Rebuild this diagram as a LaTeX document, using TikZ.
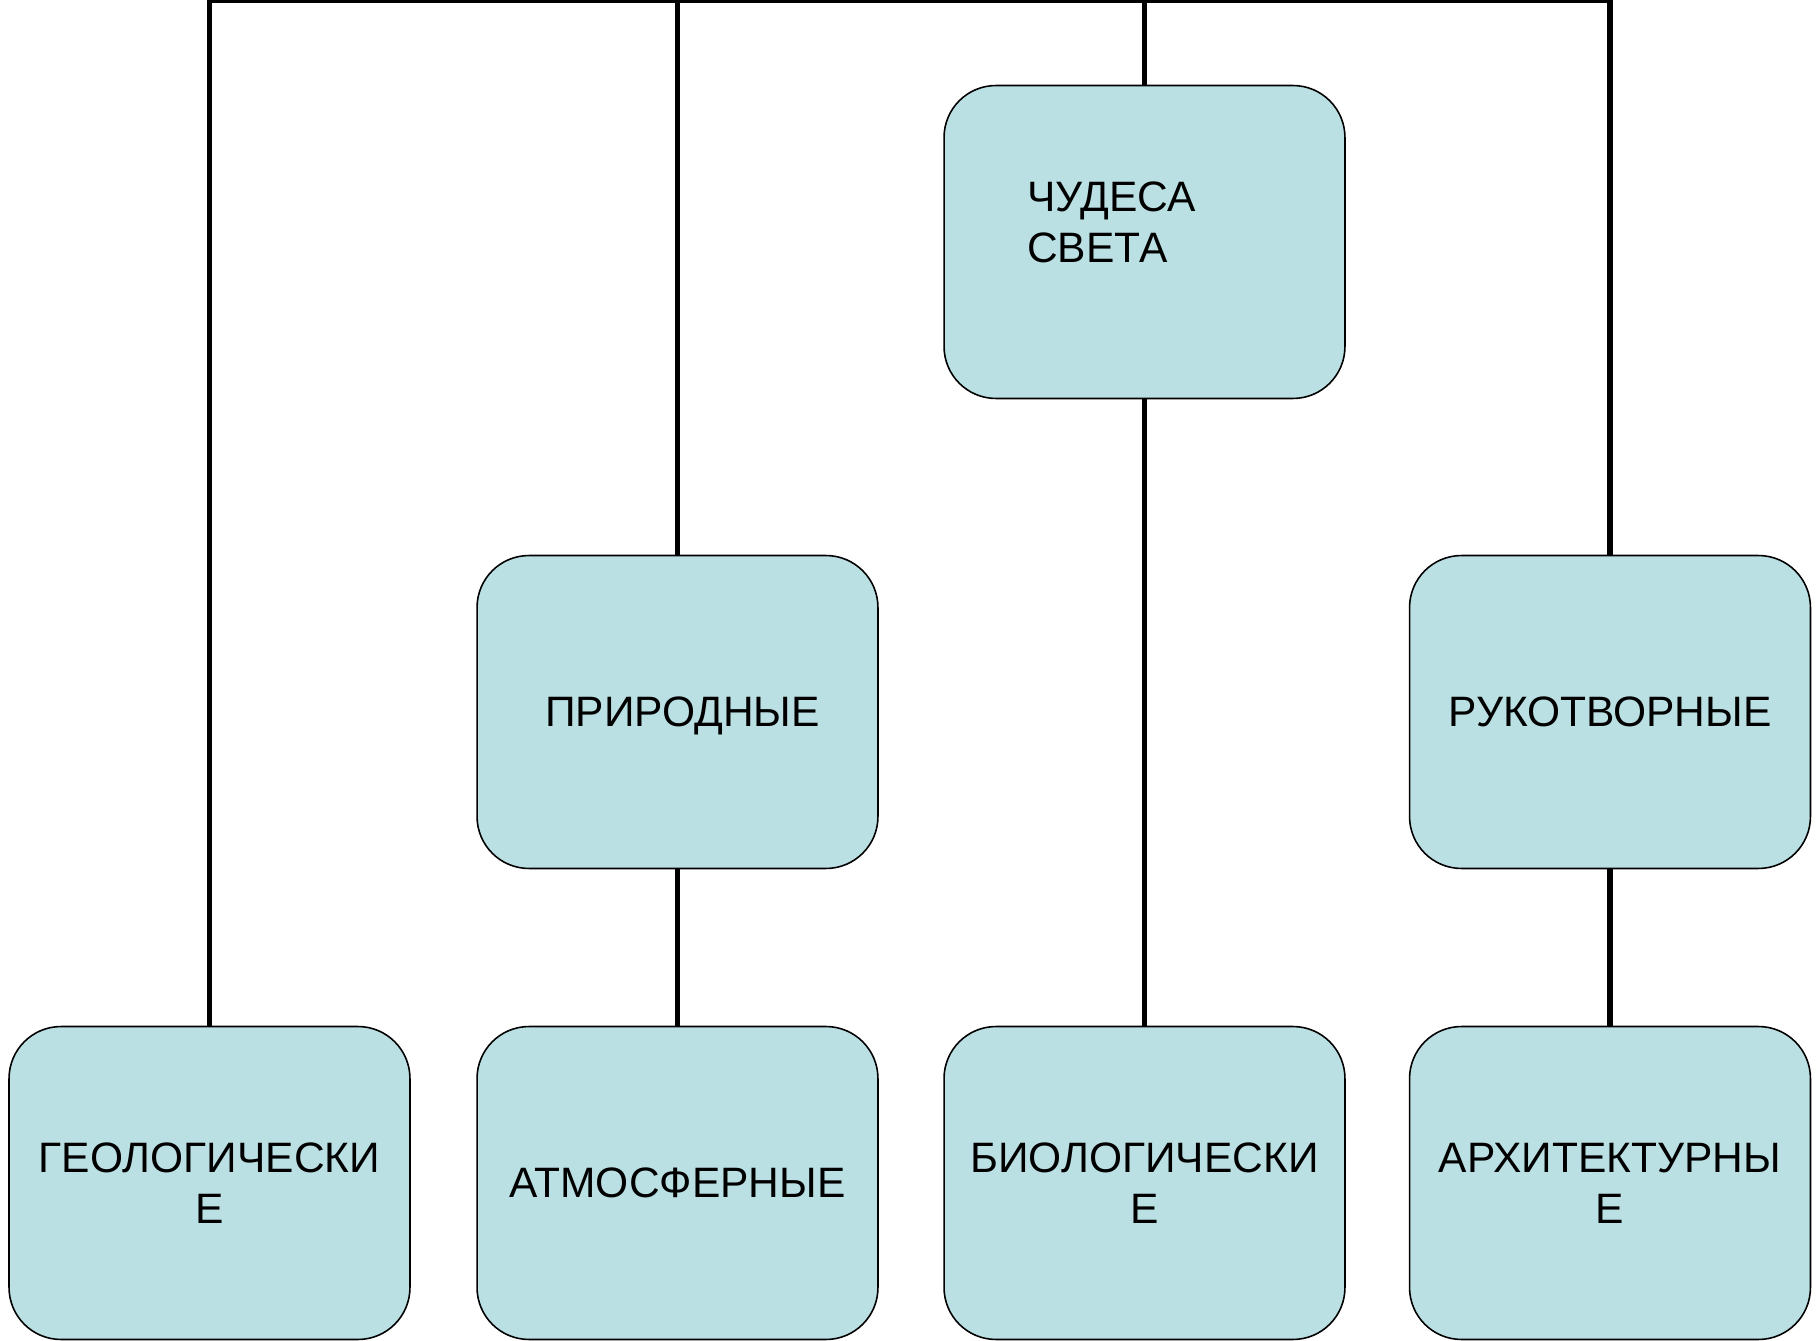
\documentclass[tikz,border=0pt]{standalone}
\usepackage{fontspec}
\setmainfont{Liberation Sans}
\usepackage{xcolor}
\usepackage{tikz}
\usetikzlibrary{positioning}

\definecolor{boxfill}{HTML}{BBE0E3}

\begin{document}
\begin{tikzpicture}[x=0.02cm, y=-0.02cm,
  wonder/.style={draw=black, line width=0.9pt, fill=boxfill, rounded corners=1.04cm,
    minimum width=8.02cm, minimum height=6.26cm, inner sep=0pt, align=center,
    font=\fontsize{24.2}{28.9}\selectfont},
  link/.style={black, line width=3.4pt}]
\useasboundingbox (0,0) rectangle (1820,1341);
% boxes
\node[wonder, text width=4.7cm, align=left, text depth=1.8cm] (root) at (1144.5,242) {ЧУДЕСА\\СВЕТА};
\node[wonder, text depth=0pt] (nat) at (677.5,712) {\hspace{0.2cm}ПРИРОДНЫЕ};
\node[wonder] (man) at (1610,712) {РУКОТВОРНЫЕ};
\node[wonder] (geo) at (209.5,1183) {ГЕОЛОГИЧЕСКИ\\Е};
\node[wonder] (atm) at (677.5,1183) {АТМОСФЕРНЫЕ};
\node[wonder] (bio) at (1144.5,1183) {БИОЛОГИЧЕСКИ\\Е};
\node[wonder] (arch) at (1610,1183) {АРХИТЕКТУРНЫ\\Е};
\coordinate (bar) at (1144.5,0);
% connectors
\draw[link] (geo.north) -- (geo.north |- bar) -- (man.north |- bar) -- (man.north);
\draw[link] (nat.north) -- (nat.north |- bar);
\draw[link] (root.north) -- (bar);
\draw[link] (nat.south) -- (atm.north);
\draw[link] (root.south) -- (bio.north);
\draw[link] (man.south) -- (arch.north);
\end{tikzpicture}
\end{document}
